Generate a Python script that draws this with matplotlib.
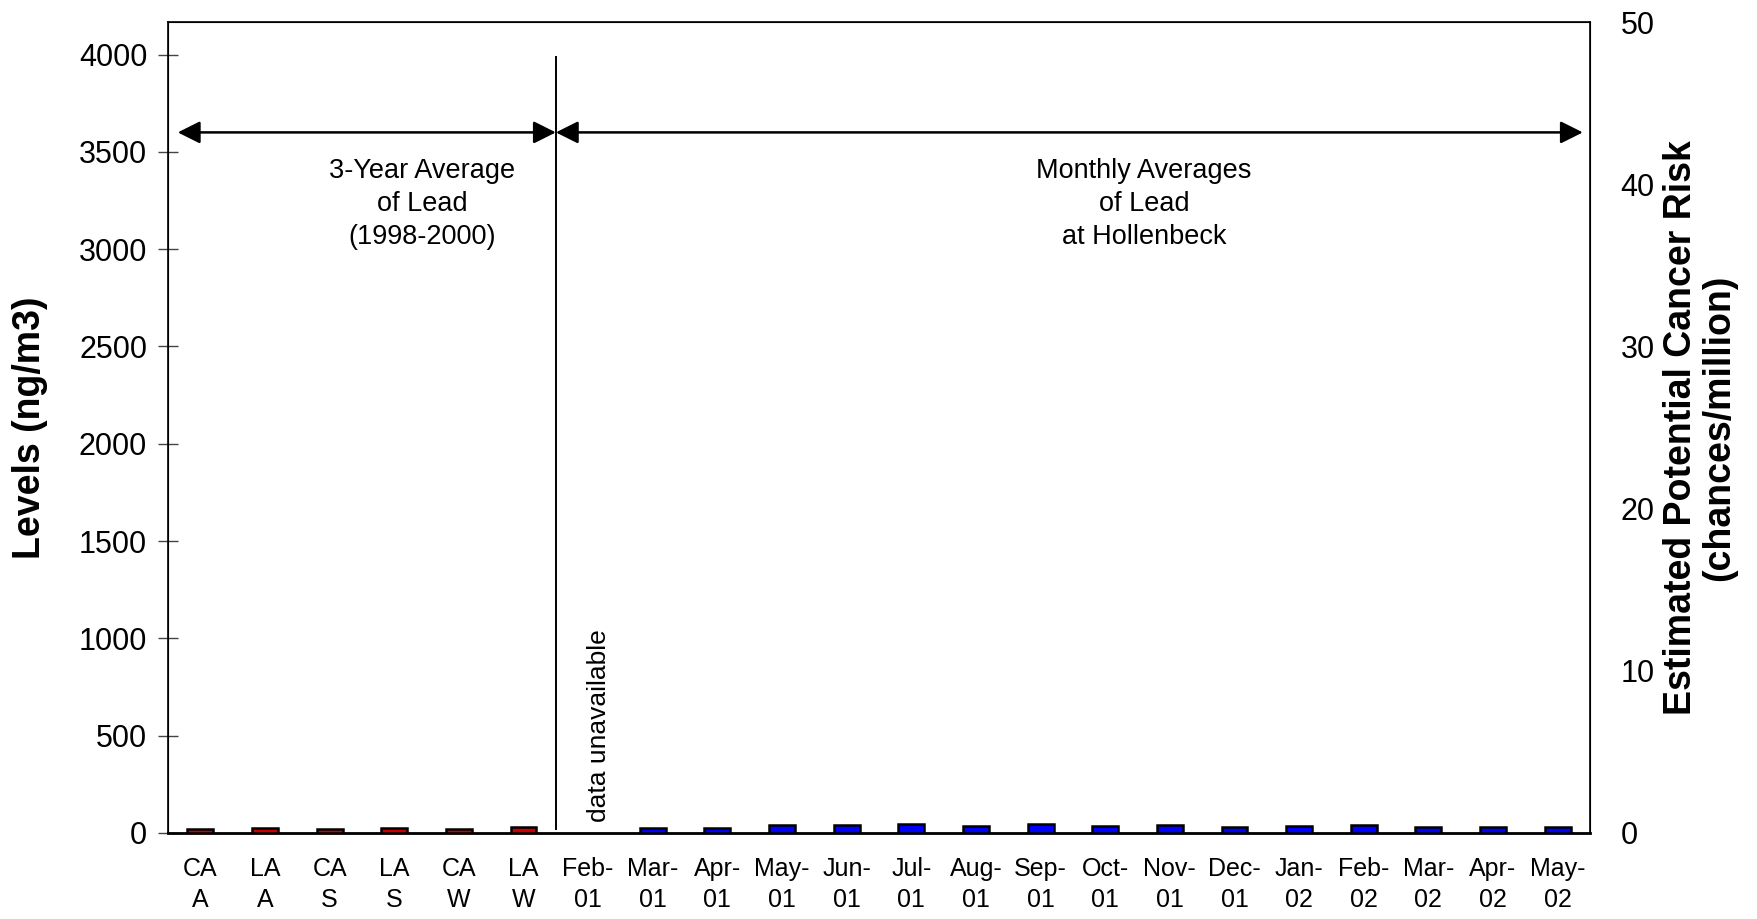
import matplotlib
matplotlib.use('Agg')
from matplotlib import pyplot as plt

plt.rcParams['font.family'] = ['Liberation Sans', 'DejaVu Sans']

# categories (x tick labels)
labels = ['CA\nA', 'LA\nA', 'CA\nS', 'LA\nS', 'CA\nW', 'LA\nW',
          'Feb-\n01', 'Mar-\n01', 'Apr-\n01', 'May-\n01', 'Jun-\n01', 'Jul-\n01',
          'Aug-\n01', 'Sep-\n01', 'Oct-\n01', 'Nov-\n01', 'Dec-\n01', 'Jan-\n02',
          'Feb-\n02', 'Mar-\n02', 'Apr-\n02', 'May-\n02']

# 3-year averages (ng/m3)
avg_values = [20, 27, 19, 27, 20, 31]
# monthly averages at Hollenbeck (Feb-01 unavailable)
monthly_values = [None, 26, 26, 41, 43, 45, 38, 46, 34, 40, 31, 38, 40, 31, 31, 31]

fig = plt.figure(figsize=(17.58, 9.19), dpi=100)
ax = fig.add_axes([0.0956, 0.0936, 0.8088, 0.8824])

x_avg = list(range(len(avg_values)))
ax.bar(x_avg, avg_values, width=0.4, color='#cc0000', edgecolor='black', linewidth=1.8, zorder=3)

x_mon = [len(avg_values) + i for i, v in enumerate(monthly_values) if v is not None]
y_mon = [v for v in monthly_values if v is not None]
ax.bar(x_mon, y_mon, width=0.4, color='#0000ff', edgecolor='black', linewidth=1.8, zorder=3)

ax.set_xlim(-0.5, len(labels) - 0.5)
ax.set_ylim(0, 4167)
ax.set_yticks(range(0, 4001, 500))
ax.set_xticks(range(len(labels)))
ax.set_xticklabels(labels, fontsize=18, linespacing=1.4)
ax.tick_params(axis='x', length=0, pad=17)
ax.tick_params(axis='y', direction='inout', length=14, width=1, labelsize=22, pad=8, color='#444444')
for s in ax.spines.values():
    s.set_linewidth(1.2)
ax.spines['bottom'].set_linewidth(2)

# divider and arrows
ax.plot([5.5, 5.5], [20, 3985], color='black', lw=1.4)
arrow = dict(arrowstyle='<|-|>,head_length=0.4,head_width=0.2', color='black', lw=1.8,
             mutation_scale=34, shrinkA=0, shrinkB=0)
ax.annotate('', xy=(-0.35, 3600), xytext=(5.5, 3600), arrowprops=arrow)
ax.annotate('', xy=(5.5, 3600), xytext=(21.39, 3600), arrowprops=arrow)

ax.text(3.43, 3230, '3-Year Average\nof Lead\n(1998-2000)', ha='center', va='center',
        fontsize=19.5, linespacing=1.35)
ax.text(14.6, 3230, 'Monthly Averages\nof Lead\nat Hollenbeck', ha='center', va='center',
        fontsize=19.5, linespacing=1.35)
ax.text(6.17, 55, 'data unavailable', rotation=90, ha='center', va='bottom', fontsize=19)

# right axis: cancer risk
ax2 = ax.twinx()
ax2.set_ylim(0, 50)
ax2.set_yticks(range(0, 51, 10))
ax2.tick_params(axis='y', length=0, labelsize=22, pad=22)

fig.text(30 / 1758, 1 - 428 / 919, 'Levels (ng/m3)', rotation=90, ha='center', va='center',
         fontsize=27, fontweight='bold')
fig.text(1700 / 1758, 1 - 428 / 919, 'Estimated Potential Cancer Risk\n(chances/million)',
         rotation=90, ha='center', va='center', fontsize=27, fontweight='bold', linespacing=1.1)

fig.savefig('out.png', dpi=100)
